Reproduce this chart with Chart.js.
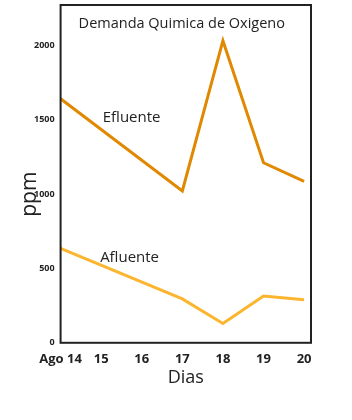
<!DOCTYPE html>
<html>
<head>
<meta charset="utf-8">
<script src="https://cdn.jsdelivr.net/npm/chart.js@4"></script>
<style>
  html, body { margin: 0; padding: 0; background: #fff; }
  #wrap { width: 352px; height: 420px; }
</style>
</head>
<body>
<div id="wrap"><canvas id="dqo"></canvas></div>
<script>
const days = [14, 17, 18, 19, 20];
const tickDays = [14, 15, 16, 17, 18, 19, 20];
const efluente = [1640, 1020, 2030, 1210, 1085];
const afluente = [635, 295, 130, 315, 290];
const yTicks = [0, 500, 1000, 1500, 2000];

const fontFam = "'Open Sans', 'DejaVu Sans', sans-serif";

// box round the plot + title, ppm and series labels
const boxPlugin = {
  id: "box",
  afterDraw(chart) {
    const { ctx, chartArea: a, scales } = chart;
    ctx.save();
    ctx.strokeStyle = "#222";
    ctx.lineWidth = 2;
    ctx.strokeRect(a.left, a.top, a.right - a.left, a.bottom - a.top);
    ctx.fillStyle = "#222";
    ctx.textAlign = "center";
    ctx.textBaseline = "middle";
    ctx.font = "14.5px " + fontFam;
    ctx.fillText("Demanda Quimica de Oxigeno", (a.left + a.right) / 2 - 4, a.top + 19);
    ctx.font = "15px " + fontFam;
    ctx.fillText("Efluente", scales.x.getPixelForValue(15.75), scales.y.getPixelForValue(1510));
    ctx.fillText("Afluente", scales.x.getPixelForValue(15.7), scales.y.getPixelForValue(570));
    // y axis title sits a bit below the middle
    ctx.translate(30, a.top + (a.bottom - a.top) * 0.56);
    ctx.rotate(-Math.PI / 2);
    ctx.font = "21px " + fontFam;
    ctx.fillText("ppm", 0, 0);
    ctx.restore();
  }
};

new Chart(document.getElementById("dqo").getContext("2d"), {
  type: "line",
  data: {
    datasets: [
      {
        label: "Efluente",
        data: days.map((d, i) => ({ x: d, y: efluente[i] })),
        borderColor: "#e08800",
        borderWidth: 3,
        pointRadius: 0,
        tension: 0,
      },
      {
        label: "Afluente",
        data: days.map((d, i) => ({ x: d, y: afluente[i] })),
        borderColor: "#fcb52e",
        borderWidth: 3,
        pointRadius: 0,
        tension: 0,
      },
    ],
  },
  options: {
    responsive: true,
    maintainAspectRatio: false,
    animation: false,
    layout: { padding: { top: 5, right: 41, bottom: 31, left: 28 } },
    plugins: {
      legend: { display: false },
      tooltip: { enabled: false },
    },
    scales: {
      x: {
        type: "linear",
        min: 14,
        max: 20.17,
        afterBuildTicks: (s) => { s.ticks = tickDays.map((v) => ({ value: v })); },
        grid: { display: false, drawTicks: false },
        border: { display: false },
        ticks: {
          color: "#222",
          padding: 9,
          autoSkip: false,
          font: { family: fontFam, size: 13, weight: "bold" },
          callback: (v) => (v === 14 ? "Ago 14" : String(v)),
          maxRotation: 0,
        },
        title: {
          display: true,
          text: "Dias",
          color: "#222",
          padding: { top: -9, bottom: 0 },
          font: { family: fontFam, size: 18 },
        },
      },
      y: {
        min: 0,
        max: 2270,
        afterBuildTicks: (s) => { s.ticks = yTicks.map((v) => ({ value: v })); },
        afterFit: (s) => { s.paddingTop = 0; },
        grid: { display: false, drawTicks: false },
        border: { display: false },
        ticks: {
          color: "#222",
          padding: 6,
          font: { family: fontFam, size: 9, weight: "bold" },
          callback: (v) => String(v),
        },
      },
    },
  },
  plugins: [boxPlugin],
});
</script>
</body>
</html>
